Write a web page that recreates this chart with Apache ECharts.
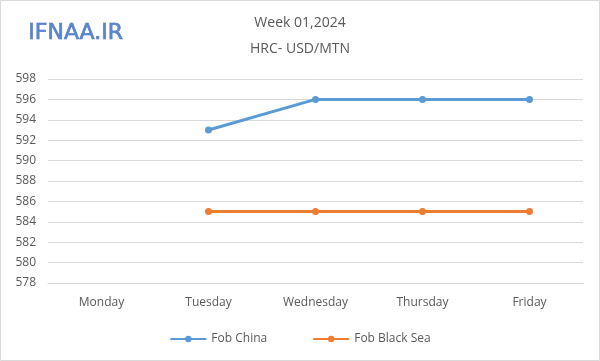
<!DOCTYPE html>
<html><head><meta charset="utf-8">
<script src="https://cdn.jsdelivr.net/npm/echarts@6/dist/echarts.min.js"></script>
<style>html,body{margin:0;padding:0;background:#fff}#c{width:600px;height:361px}</style>
</head><body><div id="c"></div>
<script>
var categories = ['Monday','Tuesday','Wednesday','Thursday','Friday'];
var fobChina = [null, 593, 596, 596, 596];
var fobBlackSea = [null, 585, 585, 585, 585];
var yTicks = {min: 578, max: 598, interval: 2};

var chart = echarts.init(document.getElementById('c'), null, {renderer:'canvas'});
var txt = '#595959';
var font = 'Open Sans, Calibri, Liberation Sans, sans-serif';
chart.setOption({
  animation:false,
  backgroundColor:'#fff',
  graphic:[
    {type:'rect', shape:{x:0.5,y:0.5,width:599,height:360}, style:{fill:'none', stroke:'#d9d9d9', lineWidth:1}},
    {type:'text', left:28, top:22, style:{text:'IFNAA.IR', fill:'#5a86d0', font:'normal 22px "DejaVu Sans", sans-serif', stroke:'#3d66b8', lineWidth:0.6, shadowColor:'rgba(0,0,0,0.35)', shadowBlur:2, shadowOffsetX:1, shadowOffsetY:1}}
  ],
  title:{
    text:'Week 01,2024\nHRC- USD/MTN',
    left:'center', top:5,
    textStyle:{color:txt, fontSize:14, fontWeight:'normal', fontFamily:font, lineHeight:26}
  },
  legend:{
    bottom:11, left:'center', itemGap:45, itemWidth:36, itemHeight:8,
    textStyle:{color:txt, fontSize:12, fontFamily:font},
    data:['Fob China','Fob Black Sea']
  },
  grid:{left:48, right:17, top:79, bottom:78, containLabel:false},
  xAxis:{
    type:'category', data:categories, boundaryGap:true,
    axisLine:{lineStyle:{color:'#d9d9d9'}}, axisTick:{show:false},
    axisLabel:{color:txt, fontSize:12, fontFamily:font, margin:14}
  },
  yAxis:{
    type:'value', min:yTicks.min, max:yTicks.max, interval:yTicks.interval,
    axisLine:{show:false}, axisTick:{show:false},
    splitLine:{lineStyle:{color:'#d9d9d9'}},
    axisLabel:{color:txt, fontSize:12, fontFamily:font, margin:12, align:'right'}
  },
  series:[
    {name:'Fob China', type:'line', data:fobChina, color:'#5b9bd5', symbol:'circle', symbolSize:7, lineStyle:{width:3}, connectNulls:false},
    {name:'Fob Black Sea', type:'line', data:fobBlackSea, color:'#ed7d31', symbol:'circle', symbolSize:7, lineStyle:{width:3}}
  ]
});
</script></body></html>
